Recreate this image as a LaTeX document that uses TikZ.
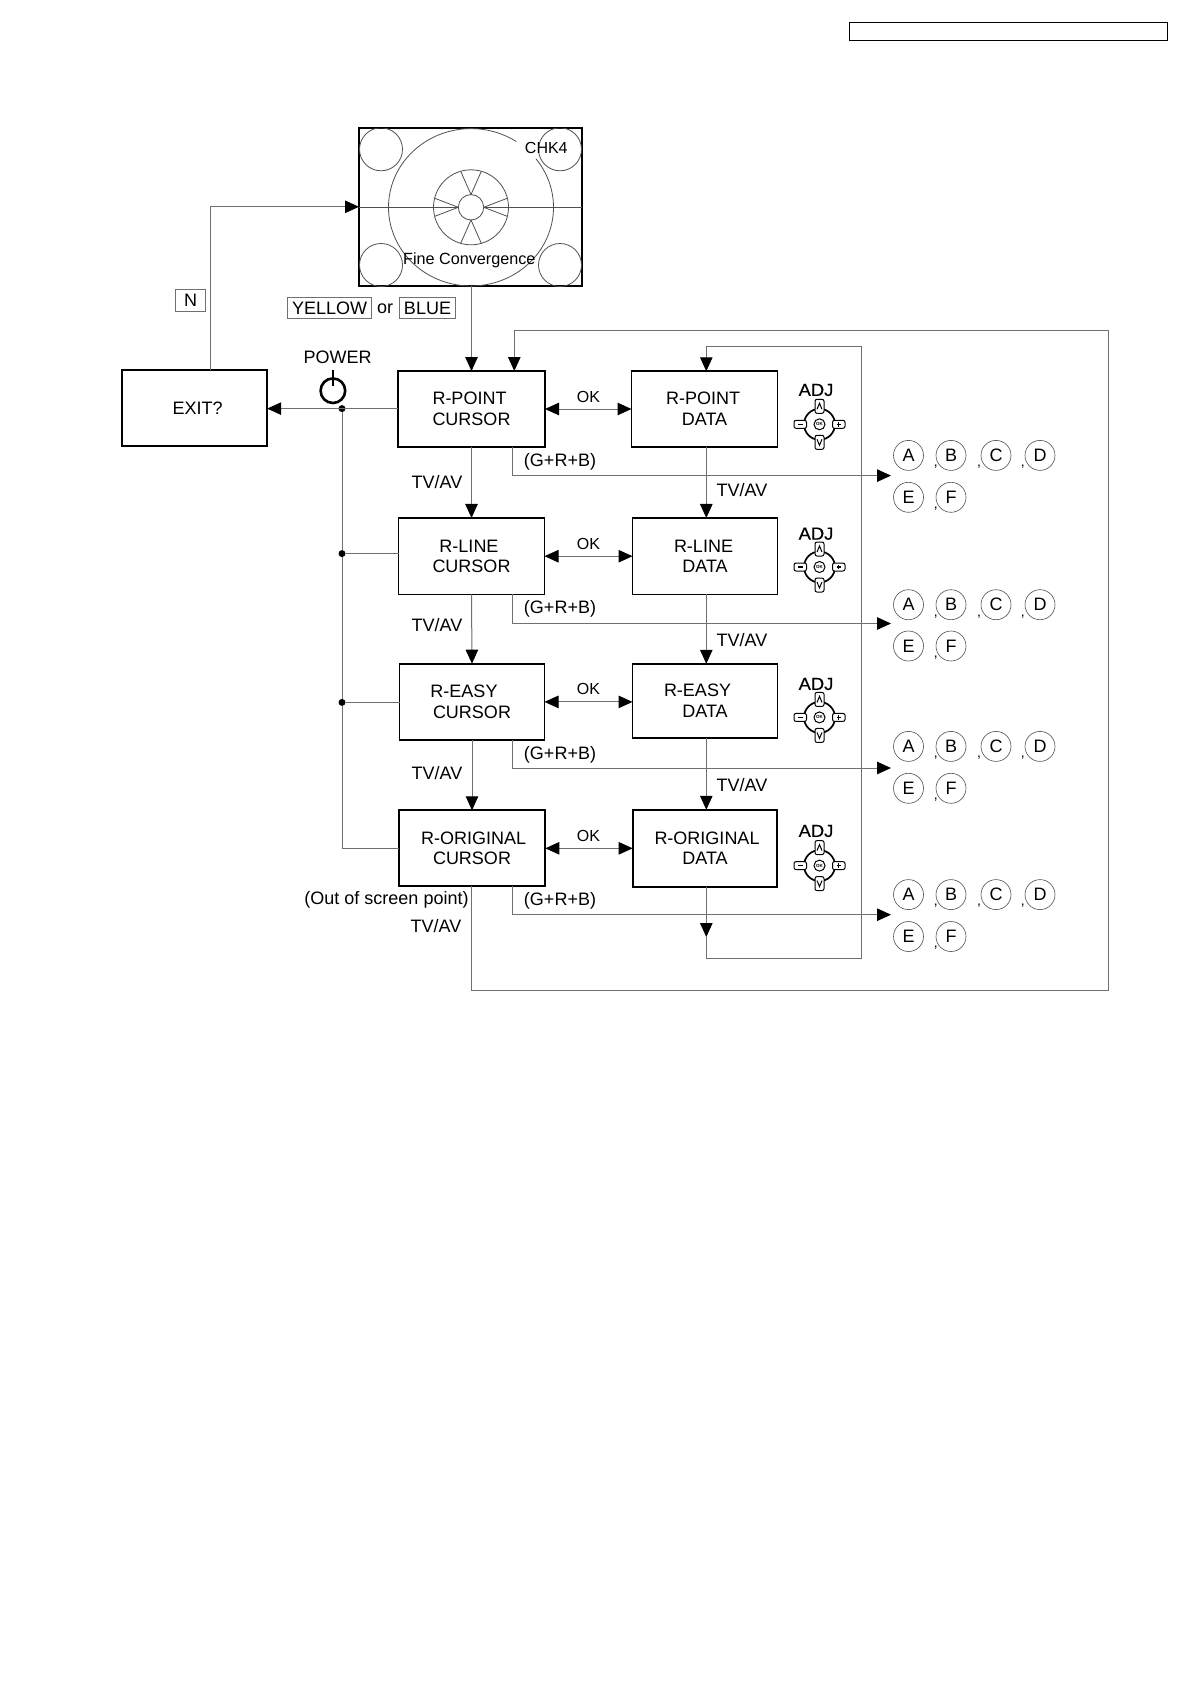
\documentclass[tikz,border=0pt]{standalone}
\usepackage{fontspec}
\setmainfont{Liberation Sans}
\newfontfamily\adjfont[FakeBold=0.4,FakeStretch=1.05]{Liberation Sans}
\usetikzlibrary{arrows.meta,calc}
\definecolor{wire}{RGB}{112,112,112}
\definecolor{thin}{RGB}{80,80,80}
\newcommand\fs[1]{\fontsize{#1}{20.6}\selectfont}
\newcommand\sL[2]{\hbox{#2\kern#1pt}}
\newcommand\sR[2]{\hbox{\kern#1pt #2}}
\tikzset{
  box/.style={draw=black,line width=1.9pt,fill=white,inner sep=0pt,outer sep=0pt,align=center,font=\fs{18}},
  conn/.style={draw=wire,line width=1pt},
  tipped/.style={-{Triangle[length=14pt,width=12.5pt,color=black,fill=black]}},
  both/.style={{Triangle[length=14pt,width=12.5pt,color=black,fill=black]}-{Triangle[length=14pt,width=12.5pt,color=black,fill=black]}},
  txt/.style={inner sep=0pt,outer sep=0pt,font=\fs{18}},
  keyb/.style={draw=wire,line width=0.8pt,inner sep=0pt,outer sep=0pt,font=\fs{18}},
  dot/.style={circle,fill=black,inner sep=0pt,minimum size=7pt},
  letter/.style={circle,draw=thin,line width=0.6pt,inner sep=0pt,minimum size=30pt,font=\fs{18}},
  fine/.style={draw=thin,line width=0.8pt},
}
\newcommand\adjpad[3]{%
  \begin{scope}[shift={(#2,#3)}]
    \draw[line width=1.7pt] (0,0) circle[radius=15.5pt];
    \draw[fill=white,line width=1pt,rounded corners=2pt] (-25.5,-4) rectangle (-13,4);
    \draw[fill=white,line width=1pt,rounded corners=2pt] (13,-4) rectangle (25.5,4);
    \draw[fill=white,line width=1pt,rounded corners=2pt] (-4.5,-25) rectangle (4.5,-11);
    \draw[fill=white,line width=1pt,rounded corners=2pt] (-4.5,11) rectangle (4.5,25);
    \draw[line width=1pt] (0,0) circle[radius=5.5pt];
    \node[inner sep=0pt,font=\fontsize{4.5}{5}\selectfont\bfseries] (#1ok) at (0,0) {OK};
    \draw[line width=1.1pt] (-21.5,0) -- (-17,0);
    \draw[line width=1.1pt] (17,0) -- (21.5,0) (19.2,-2.2) -- (19.2,2.2);
    \draw[line width=1pt] (-2.5,-15) -- (0,-21) -- (2.5,-15);
    \draw[line width=1pt] (-2.5,15) -- (0,21) -- (2.5,15);
  \end{scope}}
\newcommand\letters[3]{%
  \node[letter] (#1a) at (908.5,#2) {A};
  \node[letter] (#1b) at (951,#2) {B};
  \node[letter] (#1c) at (996,#2) {C};
  \node[letter] (#1d) at (1040,#2) {D};
  \node[letter] (#1e) at (908.5,#3) {E};
  \node[letter] (#1f) at (951,#3) {F};
  \node[txt,font=\fs{14}] (#1k1) at (935.7,#2+11.5) {,};
  \node[txt,font=\fs{14}] (#1k2) at (979,#2+11.5) {,};
  \node[txt,font=\fs{14}] (#1k3) at (1022.7,#2+11.5) {,};
  \node[txt,font=\fs{14}] (#1k4) at (935.7,#3+11.5) {,};}
\begin{document}
\begin{tikzpicture}[x=1pt,y=-1pt]
\useasboundingbox (0,0) rectangle (1190,1684);
\fill[white] (0,0) rectangle (1190,1684);

% header
\node[draw=black,line width=1.5pt,inner sep=0pt,minimum width=318.4pt,minimum height=18.4pt] (hdr) at (1008.5,31.5) {};

% test screen
\node[draw=black,line width=2.5pt,inner sep=0pt,outer sep=0pt,minimum width=223pt,minimum height=158pt] (scr) at (470.5,206.8) {};
\begin{scope}
\clip (359,128) rectangle (582,286);
\draw[fine] (381,149.3) circle[radius=21.5pt];
\draw[fine] (560,149.3) circle[radius=21.5pt];
\draw[fine] (381,265) circle[radius=21.5pt];
\draw[fine] (560,265) circle[radius=21.5pt];
\draw[fine] plot[domain=56.8:398,samples=90,smooth] ({471+82.5*cos(\x)},{207.3-78.7*sin(\x)});
\end{scope}
\draw[fine] (471,207.3) circle[radius=37.5pt];
\draw[fine] (471,207.3) circle[radius=12.7pt];
\foreach \a/\b in {90/106,90/74,270/254,270/286,0/14,0/-14,180/166,180/194}{
  \draw[fine] ({471+12.7*cos(\a)},{207.3-12.7*sin(\a)}) -- ({471+37.5*cos(\b)},{207.3-37.5*sin(\b)});
}
\draw[fine] (359,207.3) -- (458.3,207.3) (483.7,207.3) -- (582,207.3);
\node[txt,font=\fs{16}] (chk) at (546.3,147.7) {CHK4};
\node[txt,font=\fs{16.2}] (finec) at (469.3,260.8) {Fine Convergence};

% main boxes
\node[box,minimum width=145pt,minimum height=76pt] (exit) at (194.7,408.3) {\sR{6}{EXIT?}};
\node[box,minimum width=147pt,minimum height=76pt] (cur1) at (471.5,409) {\sL{4}{R-POINT}\\CURSOR};
\node[box,minimum width=146pt,minimum height=75.5pt] (dat1) at (704.5,409) {\sL{3}{R-POINT}\\DATA};
\node[box,minimum width=146pt,minimum height=76.5pt] (cur2) at (471.5,556.2) {\sL{5}{R-LINE}\\CURSOR};
\node[box,minimum width=145pt,minimum height=76.5pt] (dat2) at (705,556.2) {\sL{3}{R-LINE}\\DATA};
\node[box,minimum width=145pt,minimum height=76.5pt] (cur3) at (472,701.9) {\sL{16}{R-EASY}\\CURSOR};
\node[box,minimum width=145pt,minimum height=74pt] (dat3) at (705,700.8) {\sL{15}{R-EASY}\\DATA};
\node[box,minimum width=146.7pt,minimum height=76pt] (cur4) at (472,848.3) {\sR{3.4}{R-ORIGINAL}\\CURSOR};
\node[box,minimum width=144.7pt,minimum height=77.3pt] (dat4) at (705,848.4) {\sR{4}{R-ORIGINAL}\\DATA};

% helper coordinates
\coordinate (xup) at (210.4,0);
\coordinate (xfb) at (514.3,0);
\coordinate (xg) at (512.8,0);
\coordinate (xd) at (706.3,0);
\coordinate (xout) at (471.5,0);
\coordinate (xtip) at (891,0);
\coordinate (xdr) at (861.3,0);
\coordinate (xor) at (1108.4,0);
\coordinate (yfbt) at (0,330.3);
\coordinate (yfbb) at (0,990.3);
\coordinate (ydt) at (0,346);
\coordinate (ydb) at (0,958.3);
\coordinate (midtip) at (706.3,937);

% screen / exit
\draw[conn,tipped] (exit.north -| xup) -- (xup |- scr.west) -- (scr.west);
\draw[conn,tipped] (scr.south -| cur1.north) -- (cur1.north);

% power bus
\node[dot] (pd1) at (342,408.6) {};
\node[dot] (pd2) at (342,553.6) {};
\node[dot] (pd3) at (342,702.4) {};
\draw[conn,tipped] (cur1.west |- pd1) -- (exit.east |- pd1);
\draw[conn] (pd1) -- (pd2) -- (pd3) -- (pd3 |- cur4.west) -- (cur4.west);
\draw[conn] (pd2) -- (pd2 -| cur2.west);
\draw[conn] (pd3) -- (pd3 -| cur3.west);

% cursor chain
\draw[conn,tipped] (cur1.south) -- (cur2.north);
\draw[conn,tipped] (cur2.south) -- (cur3.north);
\draw[conn,tipped] (cur3.south) -- (cur4.north);
% data chain
\draw[conn,tipped] (dat1.south -| xd) -- (dat2.north -| xd);
\draw[conn,tipped] (dat2.south -| xd) -- (dat3.north -| xd);
\draw[conn,tipped] (dat3.south -| xd) -- (dat4.north -| xd);
% OK
\draw[conn,both] (cur1.east) -- (cur1.east -| dat1.west);
\draw[conn,both] (cur2.east) -- (cur2.east -| dat2.west);
\draw[conn,both] (cur3.east) -- (cur3.east -| dat3.west);
\draw[conn,both] (cur4.east) -- (cur4.east -| dat4.west);
% G+R+B
\draw[conn,tipped] (cur1.south -| xg) |- (xtip |- {0,475.6});
\draw[conn,tipped] (cur2.south -| xg) |- (xtip |- {0,623.5});
\draw[conn,tipped] (cur3.south -| xg) |- (xtip |- {0,768});
\draw[conn,tipped] (cur4.south -| xg) |- (xtip |- {0,914.7});
% outer feedback
\draw[conn,tipped] (cur4.south -| xout) -- (xout |- yfbb) -- (xor |- yfbb) -- (xor |- yfbt) -- (xfb |- yfbt) -- (xfb |- cur1.north);
% data feedback
\draw[conn,tipped] (dat4.south -| xd) -- (midtip);
\draw[conn,tipped] (midtip) -- (midtip |- ydb) -- (xdr |- ydb) -- (xdr |- ydt) -- (xd |- ydt) -- (dat1.north -| xd);

% key labels
\node[keyb,minimum width=30pt,minimum height=22.4pt] (kn) at (190.7,300.5) {N};
\node[keyb,minimum width=84.3pt,minimum height=21.7pt] (ky) at (329.6,307.9) {YELLOW};
\node[txt] (kor) at (385,308.5) {or};
\node[keyb,minimum width=56.4pt,minimum height=21.7pt] (kb) at (427.5,307.9) {BLUE};

% power
\node[txt] (pw) at (337.5,357) {POWER};
\draw[line width=2.6pt] (332.9,390.7) circle[radius=12.3pt];
\draw[line width=2.6pt] (332.9,370) -- (332.9,386);

% labels
\node[txt,font=\fs{16}] (ok1) at (588.5,396.5) {OK};
\node[txt,font=\fs{16}] (ok2) at (588.5,543.5) {OK};
\node[txt,font=\fs{16}] (ok3) at (588.5,689) {OK};
\node[txt,font=\fs{16}] (ok4) at (588.5,836) {OK};
\node[txt] (tl1) at (437,481.7) {TV/AV};
\node[txt] (tl2) at (437,625.5) {TV/AV};
\node[txt] (tl3) at (437,773.5) {TV/AV};
\node[txt] (tl4) at (436,926.5) {TV/AV};
\node[txt] (tr1) at (742,490.5) {TV/AV};
\node[txt] (tr2) at (742,640) {TV/AV};
\node[txt] (tr3) at (742,785) {TV/AV};
\node[txt] (g1) at (560,461.7) {(G+R+B)};
\node[txt] (g2) at (560,608.8) {(G+R+B)};
\node[txt] (g3) at (560,754.9) {(G+R+B)};
\node[txt] (g4) at (560,901) {(G+R+B)};
\node[txt] (oos) at (386.5,900) {(Out of screen point)};

% ADJ
\node[txt,font=\fs{17.5}\adjfont] (adj1) at (816,390) {ADJ};
\node[txt,font=\fs{17.5}\adjfont] (adj2) at (816,533.7) {ADJ};
\node[txt,font=\fs{17.5}\adjfont] (adj3) at (816,684) {ADJ};
\node[txt,font=\fs{17.5}\adjfont] (adj4) at (816,831) {ADJ};
\adjpad{pa}{819.5}{424.3}
\adjpad{pb}{819.5}{567}
\adjpad{pc}{819.5}{717.4}
\adjpad{pd}{819.5}{865.6}

% letter groups
\letters{la}{455.4}{497.3}
\letters{lb}{604.7}{646}
\letters{lc}{746.4}{788.3}
\letters{ld}{894.6}{936.5}
\end{tikzpicture}
\end{document}
